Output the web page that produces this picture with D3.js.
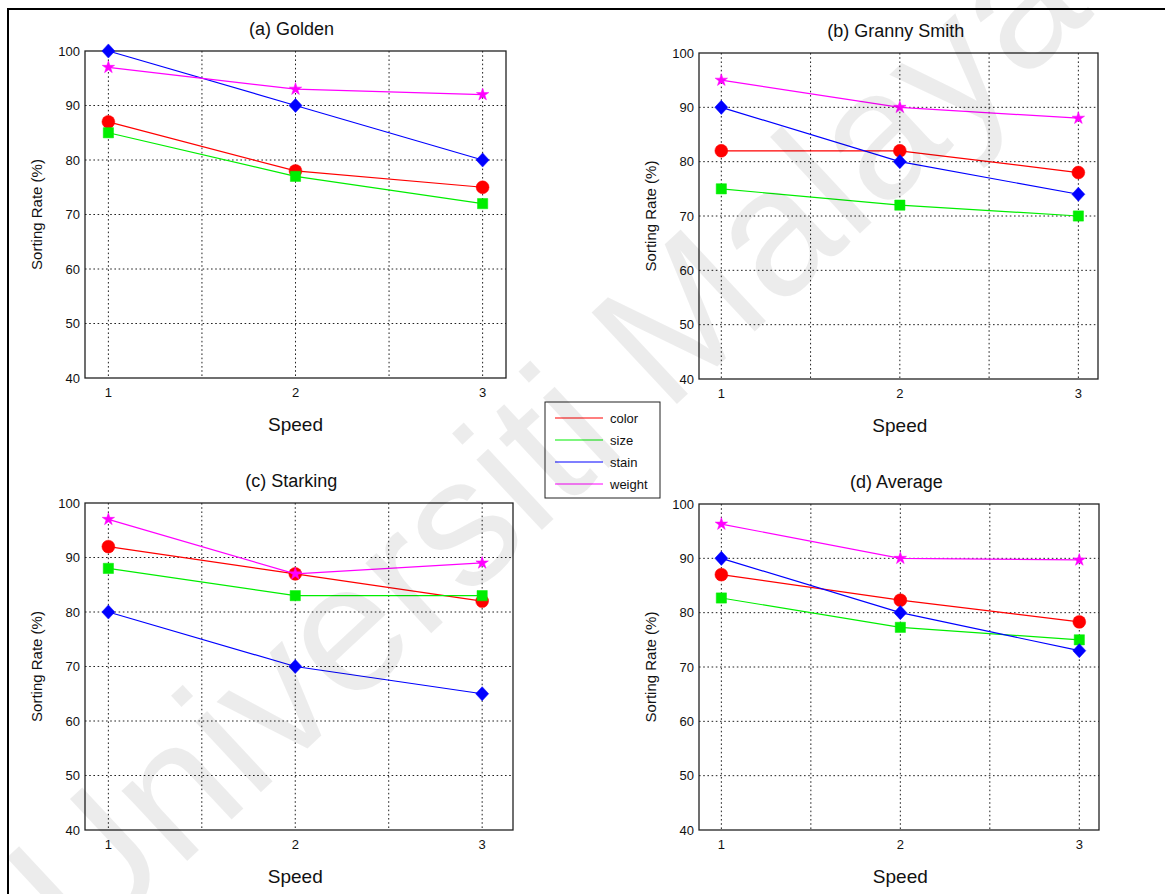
<!DOCTYPE html>
<meta charset="utf-8">
<style>
body { margin: 0; background: #fff; font-family: 'Liberation Sans', Arial, sans-serif; }
.grid line { stroke: #222; stroke-dasharray: 1.6,2.6; stroke-width: 1; }
</style>
<svg width="1165" height="894"></svg>
<script src="https://cdn.jsdelivr.net/npm/d3@7"></script>
<script>
// values
var speeds = [1, 2, 3];
var seriesNames = ["color", "size", "stain", "weight"];
var titles = ["(a) Golden", "(b) Granny Smith", "(c) Starking", "(d) Average"];
var golden      = [[87, 78, 75], [85, 77, 72], [100, 90, 80], [97, 93, 92]];
var grannySmith = [[82, 82, 78], [75, 72, 70], [90, 80, 74], [95, 90, 88]];
var starking    = [[92, 87, 82], [88, 83, 83], [80, 70, 65], [97, 87, 89]];
var average     = [[87, 82.3, 78.3], [82.7, 77.3, 75], [90, 80, 73], [96.3, 90, 89.7]];
var yTicks = [40, 50, 60, 70, 80, 90, 100];
var xGrid = [1, 1.5, 2, 2.5, 3];

var colors = ["#ff0000", "#00ee00", "#0000ff", "#ff00ff"];

// MATLAB-like square diamond
var squareDiamond = {
  draw: function(context, size) {
    var r = Math.sqrt(size / 2);
    context.moveTo(0, -r);
    context.lineTo(r * 0.92, 0);
    context.lineTo(0, r);
    context.lineTo(-r * 0.92, 0);
    context.closePath();
  }
};
var symbols = [d3.symbolCircle, d3.symbolSquare, squareDiamond, d3.symbolStar];
var symSizes = [130, 105, 100, 48];

// panel boxes (layout only)
var layout = [
  { left: 85,  right: 506,  top: 51,  bottom: 378, xMax: 3.125, data: golden },
  { left: 699, right: 1098, top: 53,  bottom: 379, xMax: 3.11,  data: grannySmith },
  { left: 85,  right: 513,  top: 503, bottom: 830, xMax: 3.165, data: starking },
  { left: 699, right: 1099, top: 504, bottom: 830, xMax: 3.11,  data: average }
];

var svg = d3.select("svg");

// outer frame
svg.append("rect")
    .attr("x", 8).attr("y", 9)
    .attr("width", 1200).attr("height", 1000)
    .attr("fill", "none").attr("stroke", "#000").attr("stroke-width", 2);

layout.forEach(function(p, i) {
  var x = d3.scaleLinear().domain([0.875, p.xMax]).range([p.left, p.right]);
  var y = d3.scaleLinear().domain([40, 100]).range([p.bottom, p.top]);
  var g = svg.append("g");

  // grid
  var grid = g.append("g").attr("class", "grid");
  grid.selectAll(".h").data(yTicks.slice(1, -1)).enter().append("line")
      .attr("x1", p.left).attr("x2", p.right)
      .attr("y1", function(d) { return y(d); }).attr("y2", function(d) { return y(d); });
  grid.selectAll(".v").data(xGrid).enter().append("line")
      .attr("y1", p.top).attr("y2", p.bottom)
      .attr("x1", function(d) { return x(d); }).attr("x2", function(d) { return x(d); });

  // box
  g.append("rect")
      .attr("x", p.left).attr("y", p.top)
      .attr("width", p.right - p.left).attr("height", p.bottom - p.top)
      .attr("fill", "none").attr("stroke", "#222").attr("stroke-width", 1.3);

  // tick labels
  g.selectAll(".yl").data(yTicks).enter().append("text")
      .attr("x", p.left - 5).attr("y", function(d) { return y(d); })
      .attr("dy", "0.35em").attr("text-anchor", "end")
      .attr("font-size", 13).attr("fill", "#111")
      .text(function(d) { return d; });
  g.selectAll(".xl").data(speeds).enter().append("text")
      .attr("x", function(d) { return x(d); }).attr("y", p.bottom + 19)
      .attr("text-anchor", "middle")
      .attr("font-size", 13).attr("fill", "#111")
      .text(function(d) { return d; });

  // titles and labels
  var cx = x(2);
  g.append("text")
      .attr("x", cx - 4).attr("y", p.top - 16)
      .attr("text-anchor", "middle").attr("font-size", 18).attr("fill", "#111")
      .text(titles[i]);
  g.append("text")
      .attr("x", cx).attr("y", p.bottom + 53)
      .attr("text-anchor", "middle").attr("font-size", 19).attr("fill", "#111")
      .text("Speed");
  g.append("text")
      .attr("transform", "translate(" + (p.left - 43) + "," + ((p.top + p.bottom) / 2) + ") rotate(-90)")
      .attr("text-anchor", "middle").attr("font-size", 15).attr("fill", "#111")
      .text("Sorting Rate (%)");

  // series
  var line = d3.line()
      .x(function(d, j) { return x(speeds[j]); })
      .y(function(d) { return y(d); });
  p.data.forEach(function(vals, s) {
    g.append("path")
        .attr("d", line(vals))
        .attr("fill", "none").attr("stroke", colors[s]).attr("stroke-width", 1.2);
    g.selectAll(".m" + s).data(vals).enter().append("path")
        .attr("transform", function(d, j) { return "translate(" + x(speeds[j]) + "," + y(d) + ")"; })
        .attr("d", d3.symbol().type(symbols[s]).size(symSizes[s]))
        .attr("fill", colors[s]).attr("stroke", colors[s]).attr("stroke-width", 0.5);
  });
});

// legend
var legend = svg.append("g").attr("transform", "translate(545,402)");
legend.append("rect")
    .attr("width", 115).attr("height", 96)
    .attr("fill", "#fff").attr("stroke", "#222").attr("stroke-width", 1);
var item = legend.selectAll(".item").data(seriesNames).enter().append("g")
    .attr("transform", function(d, i) { return "translate(0," + (16 + i * 22) + ")"; });
item.append("line")
    .attr("x1", 10).attr("x2", 58)
    .attr("stroke", function(d, i) { return colors[i]; }).attr("stroke-width", 1.2);
item.append("text")
    .attr("x", 65).attr("dy", "0.35em")
    .attr("font-size", 13).attr("fill", "#111")
    .text(function(d) { return d; });

// watermark
svg.append("text")
    .attr("transform", "translate(545,440) rotate(-43)")
    .attr("text-anchor", "middle").attr("dy", "0.35em")
    .attr("font-size", 182)
    .attr("fill", "#000").attr("fill-opacity", 0.075)
    .style("pointer-events", "none")
    .text("Universiti Malaya");
</script>
